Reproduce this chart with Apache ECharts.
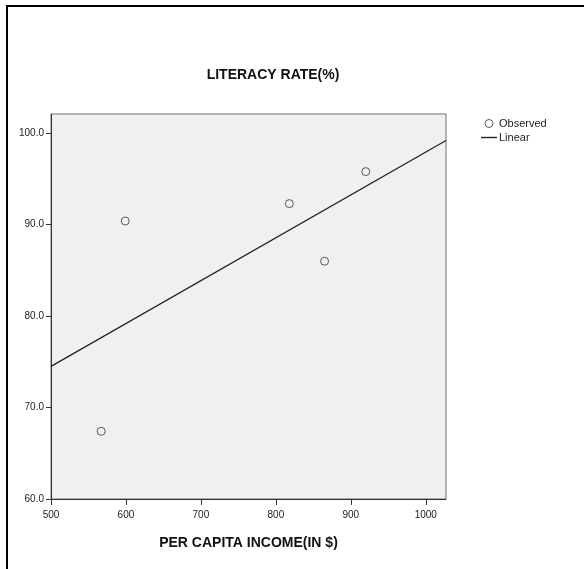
<!DOCTYPE html>
<html>
<head>
<meta charset="utf-8">
<script src="https://cdn.jsdelivr.net/npm/echarts@6/dist/echarts.min.js"></script>
<style>
  html, body { margin: 0; padding: 0; background: #fff; }
  #chart { width: 584px; height: 569px; }
</style>
</head>
<body>
<div id="chart"></div>
<script>
// observed points (per capita income, literacy rate)
const incomeVals = [567, 599, 818, 865, 920]
const literacyVals = [67.4, 90.4, 92.3, 86.0, 95.8]
// linear fit line, read at both ends of the x axis
const fitX = [500, 1027]
const fitY = [74.5, 99.2]
const xTicks = [500, 600, 700, 800, 900, 1000]
const yTicks = [60, 70, 80, 90, 100]

const font = "'Liberation Sans Narrow', 'Arial Narrow', 'Liberation Sans', Arial, sans-serif"

let myChart = echarts.init(document.getElementById('chart'))
myChart.setOption({
  backgroundColor: '#fff',
  animation: false,
  title: {
    text: 'LITERACY RATE(%)',
    left: 268,
    top: 63,
    textAlign: 'center',
    textStyle: {
      fontFamily: font,
      fontSize: 14,
      fontWeight: 'bold',
      color: '#111'
    }
  },
  graphic: [
    // outer frame, only top and left edges visible
    { type: 'rect', shape: { x: 6, y: 5, width: 578, height: 2 }, style: { fill: '#000' } },
    { type: 'rect', shape: { x: 6, y: 5, width: 2, height: 564 }, style: { fill: '#000' } }
  ],
  legend: {
    orient: 'vertical',
    left: 476,
    top: 113,
    itemWidth: 16,
    itemHeight: 8,
    itemGap: 3,
    textStyle: {
      fontFamily: font,
      fontSize: 11,
      color: '#222',
      padding: [0, 0, 0, -3]
    },
    data: [
      {
        name: 'Observed',
        icon: 'circle',
        itemStyle: { color: 'transparent', borderColor: '#333', borderWidth: 1 }
      },
      {
        name: 'Linear',
        icon: 'path://M0,0H16V1.4H0Z',
        itemStyle: { color: '#222', borderWidth: 0 }
      }
    ]
  },
  grid: {
    left: 51,
    top: 114,
    width: 395,
    height: 385,
    show: true,
    backgroundColor: '#f0f0f0',
    borderColor: '#707070',
    borderWidth: 1
  },
  xAxis: {
    type: 'value',
    min: 500,
    max: 1027,
    interval: 100,
    splitLine: { show: false },
    axisLine: {
      onZero: false,
      lineStyle: { color: '#333', width: 1 }
    },
    axisTick: {
      show: true,
      inside: false,
      length: 6,
      customValues: xTicks,
      lineStyle: { color: '#333' }
    },
    axisLabel: {
      customValues: xTicks,
      margin: 11,
      color: '#222',
      fontFamily: font,
      fontSize: 10,
      formatter: (v) => String(v)
    },
    name: 'PER CAPITA INCOME(IN $)',
    nameLocation: 'middle',
    nameGap: 37,
    nameTextStyle: {
      fontFamily: font,
      fontSize: 14,
      fontWeight: 'bold',
      color: '#111'
    }
  },
  yAxis: {
    type: 'value',
    min: 60,
    max: 102.1,
    interval: 10,
    splitLine: { show: false },
    axisLine: {
      show: true,
      onZero: false,
      lineStyle: { color: '#333', width: 1 }
    },
    axisTick: {
      show: true,
      inside: false,
      length: 5,
      customValues: yTicks,
      lineStyle: { color: '#333' }
    },
    axisLabel: {
      customValues: yTicks,
      margin: 7,
      color: '#222',
      fontFamily: font,
      fontSize: 10,
      formatter: (v) => v.toFixed(1)
    }
  },
  series: [
    {
      name: 'Observed',
      type: 'scatter',
      symbol: 'circle',
      symbolSize: 8,
      itemStyle: { color: 'transparent', borderColor: '#333', borderWidth: 1 },
      data: incomeVals.map((x, i) => [x, literacyVals[i]])
    },
    {
      name: 'Linear',
      type: 'line',
      symbol: 'none',
      lineStyle: { color: '#222', width: 1.3 },
      itemStyle: { color: '#222' },
      data: fitX.map((x, i) => [x, fitY[i]])
    }
  ]
})
</script>
</body>
</html>
